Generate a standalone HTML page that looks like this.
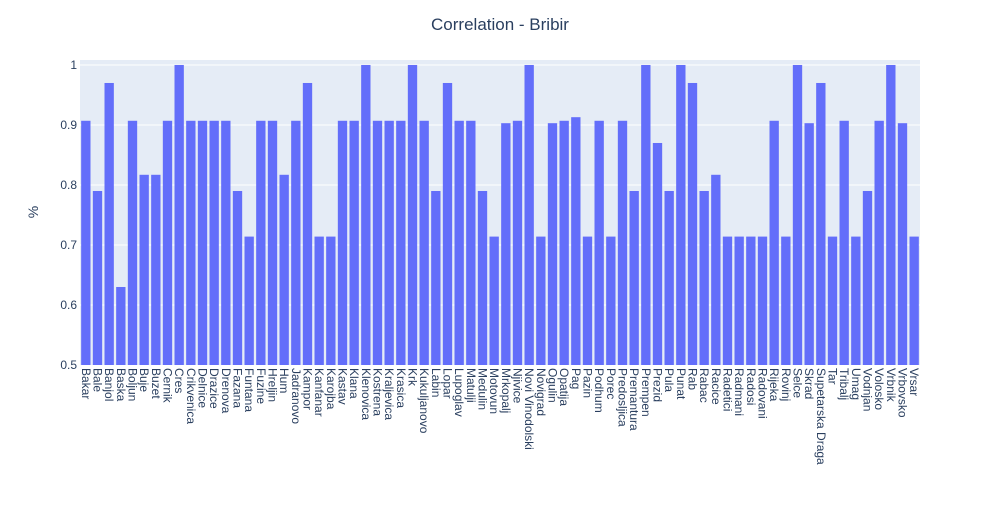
<!DOCTYPE html>
<html><head><meta charset="utf-8"><style>
body{margin:0;background:#fff;font-family:"Liberation Sans",sans-serif}
svg text{font-family:"Liberation Sans",sans-serif;fill:#2a3f5f}
</style></head><body>
<svg id="chart" width="1000" height="500">
<rect x="80" y="60" width="840" height="305" fill="#e5ecf6"/>
<g id="grid"></g><g id="bars"></g><g id="xt"></g><g id="yt"></g>
<text x="500" y="30" text-anchor="middle" font-size="17">Correlation - Bribir</text>
<text transform="translate(38,212) rotate(-90)" text-anchor="middle" font-size="14">%</text>
</svg>
<script>
const categories=["Bakar","Bale","Banjol","Baska","Boljun","Buje","Buzet","Cernik","Cres","Crikvenica","Delnice","Drazice","Drenova","Fazana","Funtana","Fuzine","Hreljin","Hum","Jadranovo","Kampor","Kanfanar","Karojba","Kastav","Klana","Klenovica","Kostrena","Kraljevica","Krasica","Krk","Kukuljanovo","Labin","Lopar","Lupoglav","Matulji","Medulin","Motovun","Mrkopalj","Njivice","Novi Vinodolski","Novigrad","Ogulin","Opatija","Pag","Pazin","Podhum","Porec","Predosljica","Premantura","Prempen","Prezid","Pula","Punat","Rab","Rabac","Racice","Radetici","Radmani","Radosi","Radovani","Rijeka","Rovinj","Selce","Skrad","Supetarska Draga","Tar","Tribalj","Umag","Vodnjan","Volosko","Vrbnik","Vrbovsko","Vrsar"];
const values=[0.907,0.79,0.97,0.63,0.907,0.817,0.817,0.907,1,0.907,0.907,0.907,0.907,0.79,0.714,0.907,0.907,0.817,0.907,0.97,0.714,0.714,0.907,0.907,1,0.907,0.907,0.907,1,0.907,0.79,0.97,0.907,0.907,0.79,0.714,0.903,0.907,1,0.714,0.903,0.907,0.913,0.714,0.907,0.714,0.907,0.79,1,0.87,0.79,1,0.97,0.79,0.817,0.714,0.714,0.714,0.714,0.907,0.714,1,0.903,0.97,0.714,0.907,0.714,0.79,0.907,1,0.903,0.714];
const yTicks=[0.5,0.6,0.7,0.8,0.9,1];
const yTickLabels=["0.5","0.6","0.7","0.8","0.9","1"];
const NS="http://www.w3.org/2000/svg";
const X0=80,W=840,Y0=365,YMIN=0.5,YMAX=1.0083;
const y=v=>Y0-(v-YMIN)/(YMAX-YMIN)*305;
const bw=W/categories.length;
const x=i=>X0+i*bw;
function mk(t,a,p){const e=document.createElementNS(NS,t);for(const k in a)e.setAttribute(k,a[k]);p.appendChild(e);return e;}
const g=document.getElementById('grid'),b=document.getElementById('bars'),xt=document.getElementById('xt'),yt=document.getElementById('yt');
yTicks.forEach((t,i)=>{
 if(i>0){const l=mk('line',{x1:X0,x2:X0+W,y1:y(t),y2:y(t),stroke:'#fff','stroke-width':1},g);
 
 }
 const tx=mk('text',{x:X0-3,y:y(t)+4,'text-anchor':'end','font-size':12},yt);tx.textContent=yTickLabels[i];
 
 
});
categories.forEach((c,i)=>{
 const r=mk('rect',{x:x(i)+bw*0.1,y:y(values[i]),width:bw*0.8,height:Y0-y(values[i]),fill:'#636efa'},b);
 
 
 const cx=x(i)+bw/2-4;
 const t=mk('text',{transform:`translate(${cx},368) rotate(90)`,'font-size':12},xt);t.textContent=c;
 
 
});
</script>
</body></html>
